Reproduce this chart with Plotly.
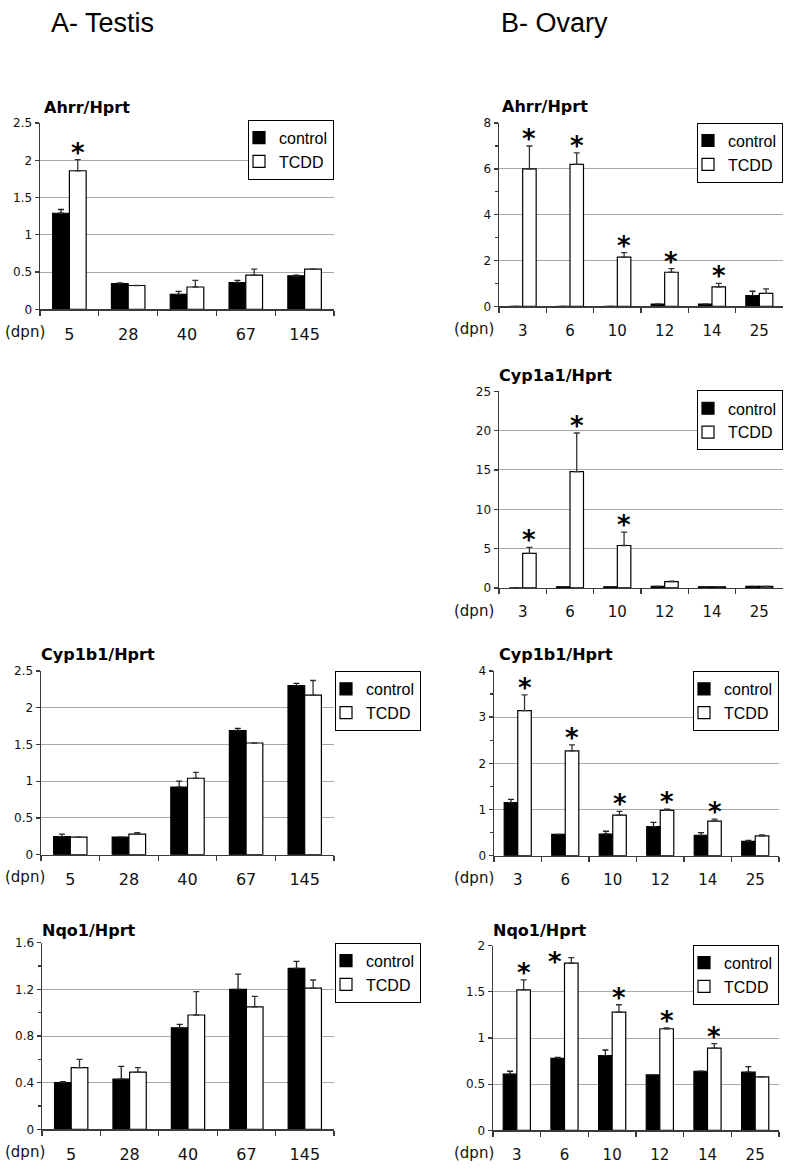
import plotly.graph_objects as go

# ---------------- data ----------------
testis_days = ["5", "28", "40", "67", "145"]
ovary_days = ["3", "6", "10", "12", "14", "25"]
legend_names = ["control", "TCDD"]

# A - Testis, Ahrr/Hprt
testis_ahrr_control = [1.29, 0.345, 0.20, 0.36, 0.45]
testis_ahrr_control_err = [0.05, 0.01, 0.04, 0.03, 0.01]
testis_ahrr_tcdd = [1.86, 0.32, 0.30, 0.46, 0.54]
testis_ahrr_tcdd_err = [0.15, 0.0, 0.09, 0.08, 0.0]
testis_ahrr_stars = ["T", "", "", "", ""]

# A - Testis, Cyp1b1/Hprt
testis_cyp1b1_control = [0.245, 0.24, 0.92, 1.69, 2.30]
testis_cyp1b1_control_err = [0.035, 0.0, 0.08, 0.03, 0.03]
testis_cyp1b1_tcdd = [0.24, 0.28, 1.04, 1.52, 2.17]
testis_cyp1b1_tcdd_err = [0.0, 0.02, 0.08, 0.0, 0.20]
testis_cyp1b1_stars = ["", "", "", "", ""]

# A - Testis, Nqo1/Hprt
testis_nqo1_control = [0.40, 0.43, 0.87, 1.20, 1.38]
testis_nqo1_control_err = [0.01, 0.11, 0.03, 0.13, 0.06]
testis_nqo1_tcdd = [0.53, 0.49, 0.98, 1.05, 1.21]
testis_nqo1_tcdd_err = [0.07, 0.04, 0.20, 0.09, 0.07]
testis_nqo1_stars = ["", "", "", "", ""]

# B - Ovary, Ahrr/Hprt
ovary_ahrr_control = [0.0, 0.0, 0.0, 0.10, 0.10, 0.47]
ovary_ahrr_control_err = [0.0, 0.0, 0.0, 0.0, 0.0, 0.19]
ovary_ahrr_tcdd = [6.0, 6.2, 2.15, 1.49, 0.85, 0.57]
ovary_ahrr_tcdd_err = [1.0, 0.5, 0.20, 0.16, 0.15, 0.19]
ovary_ahrr_stars = ["T", "T", "T", "T", "T", ""]

# B - Ovary, Cyp1a1/Hprt
ovary_cyp1a1_control = [0.0, 0.15, 0.15, 0.20, 0.15, 0.20]
ovary_cyp1a1_control_err = [0.0, 0.0, 0.0, 0.0, 0.0, 0.0]
ovary_cyp1a1_tcdd = [4.4, 14.8, 5.4, 0.80, 0.15, 0.20]
ovary_cyp1a1_tcdd_err = [0.75, 4.9, 1.7, 0.05, 0.0, 0.0]
ovary_cyp1a1_stars = ["T", "T", "T", "", "", ""]

# B - Ovary, Cyp1b1/Hprt
ovary_cyp1b1_control = [1.15, 0.46, 0.47, 0.63, 0.44, 0.31]
ovary_cyp1b1_control_err = [0.07, 0.0, 0.06, 0.09, 0.06, 0.02]
ovary_cyp1b1_tcdd = [3.14, 2.27, 0.88, 0.98, 0.75, 0.43]
ovary_cyp1b1_tcdd_err = [0.34, 0.13, 0.08, 0.03, 0.04, 0.02]
ovary_cyp1b1_stars = ["T", "T", "T", "T", "T", ""]

# B - Ovary, Nqo1/Hprt
ovary_nqo1_control = [0.61, 0.78, 0.81, 0.60, 0.64, 0.63]
ovary_nqo1_control_err = [0.03, 0.01, 0.06, 0.0, 0.0, 0.06]
ovary_nqo1_tcdd = [1.52, 1.81, 1.28, 1.10, 0.89, 0.58]
ovary_nqo1_tcdd_err = [0.11, 0.06, 0.08, 0.01, 0.05, 0.0]
ovary_nqo1_stars = ["T", "L", "T", "T", "T", ""]

# ---------------- layout constants ----------------
W, H = 790, 1169
BARGAP = 0.43


def px_x(v):
    return v / W


def px_y(v):
    return 1 - v / H


# leg = (x px, y px, anchor side)
panels = [
    dict(days=testis_days, c=testis_ahrr_control, ce=testis_ahrr_control_err,
         t=testis_ahrr_tcdd, te=testis_ahrr_tcdd_err, stars=testis_ahrr_stars,
         title="Ahrr/Hprt", box=(40, 334, 117.5, 306), ymax=2.5, dtick=0.5, minor=None,
         leg=(334, 114, "right"), tfs=16, title_xy=(42, 102), dpn_x=3),
    dict(days=ovary_days, c=ovary_ahrr_control, ce=ovary_ahrr_control_err,
         t=ovary_ahrr_tcdd, te=ovary_ahrr_tcdd_err, stars=ovary_ahrr_stars,
         title="Ahrr/Hprt", box=(499, 783, 117.5, 303), ymax=8, dtick=2, minor=1,
         leg=(783, 117, "right"), tfs=15, title_xy=(500, 101), dpn_x=452),
    dict(days=ovary_days, c=ovary_cyp1a1_control, ce=ovary_cyp1a1_control_err,
         t=ovary_cyp1a1_tcdd, te=ovary_cyp1a1_tcdd_err, stars=ovary_cyp1a1_stars,
         title="Cyp1a1/Hprt", box=(499, 783, 389, 588), ymax=25, dtick=5, minor=None,
         leg=(783, 388, "right"), tfs=15, title_xy=(497, 373), dpn_x=452),
    dict(days=testis_days, c=testis_cyp1b1_control, ce=testis_cyp1b1_control_err,
         t=testis_cyp1b1_tcdd, te=testis_cyp1b1_tcdd_err, stars=testis_cyp1b1_stars,
         title="Cyp1b1/Hprt", box=(41, 334, 672, 858), ymax=2.5, dtick=0.5, minor=None,
         leg=(335, 672, "left"), tfs=16, title_xy=(39, 655), dpn_x=3),
    dict(days=testis_days, c=testis_nqo1_control, ce=testis_nqo1_control_err,
         t=testis_nqo1_tcdd, te=testis_nqo1_tcdd_err, stars=testis_nqo1_stars,
         title="Nqo1/Hprt", box=(42, 334, 947, 1136), ymax=1.6, dtick=0.4, minor=0.2,
         leg=(335, 947, "left"), tfs=16, title_xy=(40, 935), dpn_x=3),
    dict(days=ovary_days, c=ovary_cyp1b1_control, ce=ovary_cyp1b1_control_err,
         t=ovary_cyp1b1_tcdd, te=ovary_cyp1b1_tcdd_err, stars=ovary_cyp1b1_stars,
         title="Cyp1b1/Hprt", box=(494, 779, 672, 859), ymax=4, dtick=1, minor=0.5,
         leg=(779, 672, "right"), tfs=15, title_xy=(497, 655), dpn_x=452),
    dict(days=ovary_days, c=ovary_nqo1_control, ce=ovary_nqo1_control_err,
         t=ovary_nqo1_tcdd, te=ovary_nqo1_tcdd_err, stars=ovary_nqo1_stars,
         title="Nqo1/Hprt", box=(493, 779, 950, 1137), ymax=2, dtick=0.5, minor=None,
         leg=(779, 949, "right"), tfs=15, title_xy=(491, 935), dpn_x=452),
]

fig = go.Figure()
annotations = []
AXC = "#3a3a3a"
STAR_FONT = dict(family="DejaVu Sans", size=26, color="black")

for i, p in enumerate(panels):
    n = i + 1
    xs = "" if n == 1 else str(n)
    xref, yref = "x" + xs, "y" + xs
    legname = "legend" + xs
    x0, x1, ytop, ybot = p["box"]
    k = len(p["days"])

    fig.add_trace(go.Bar(
        x=p["days"], y=p["c"], name=legend_names[0], legend=legname,
        xaxis=xref, yaxis=yref,
        marker=dict(color="black", line=dict(color="black", width=1.2)),
        error_y=dict(type="data", symmetric=False, array=p["ce"], arrayminus=[0] * k,
                     color="#222", thickness=1.3, width=3),
    ))
    fig.add_trace(go.Bar(
        x=p["days"], y=p["t"], name=legend_names[1], legend=legname,
        xaxis=xref, yaxis=yref,
        marker=dict(color="white", line=dict(color="black", width=1.2)),
        error_y=dict(type="data", symmetric=False, array=p["te"], arrayminus=[0] * k,
                     color="#333", thickness=1.3, width=3),
    ))

    cw = (x1 - x0) / k
    off = cw * (1 - BARGAP) / 4
    for idx, (s, tv, te) in enumerate(zip(p["stars"], p["t"], p["te"])):
        if not s:
            continue
        if s == "T":
            annotations.append(dict(x=idx, y=tv + te, xref=xref, yref=yref, text="<b>*</b>",
                                    showarrow=False, xshift=off, yanchor="bottom", yshift=-10,
                                    font=STAR_FONT))
        else:
            annotations.append(dict(x=idx, y=tv, xref=xref, yref=yref, text="<b>*</b>",
                                    showarrow=False, xshift=-off - 3, yanchor="bottom", yshift=-16,
                                    font=STAR_FONT))

    lx, ly, lside = p["leg"]
    fig.update_layout(**{
        "xaxis" + xs: dict(
            domain=[px_x(x0), px_x(x1)], anchor=yref, type="category",
            categoryorder="array", categoryarray=p["days"], range=[-0.5, k - 0.5],
            showline=True, linecolor=AXC, linewidth=1.5,
            ticks="outside", tickson="boundaries", ticklen=5, tickcolor=AXC, tickwidth=1.3,
            ticklabelstandoff=10, tickangle=0,
            tickfont=dict(family="DejaVu Sans", size=p["tfs"], color="#111"),
            showgrid=False, fixedrange=True,
        ),
        "yaxis" + xs: dict(
            domain=[px_y(ybot), px_y(ytop)], anchor=xref, range=[0, p["ymax"]],
            dtick=p["dtick"], tick0=0,
            showline=True, linecolor=AXC, linewidth=1.5,
            ticks="outside", ticklen=4, tickcolor=AXC, tickwidth=1.3,
            tickfont=dict(family="DejaVu Sans", size=12, color="#111"),
            showgrid=True, gridcolor="#a8a8a8", gridwidth=1, zeroline=False,
            minor=(dict(dtick=p["minor"], ticks="outside", ticklen=3, tickcolor=AXC, showgrid=False)
                   if p["minor"] else None),
            fixedrange=True,
        ),
        legname: dict(
            x=px_x(lx), y=px_y(ly), xanchor=lside, yanchor="top",
            xref="paper", yref="paper",
            bordercolor="black", borderwidth=1, bgcolor="white",
            font=dict(family="Liberation Sans", size=16, color="black"),
            itemwidth=30, tracegroupgap=0, traceorder="normal", indentation=-10,
        ),
    })

    # panel title
    tx, ty = p["title_xy"]
    annotations.append(dict(x=px_x(tx), y=px_y(ty), xref="paper", yref="paper",
                            text="<b>" + p["title"] + "</b>", showarrow=False,
                            xanchor="left", yanchor="middle",
                            font=dict(family="DejaVu Sans", size=16, color="black")))
    # (dpn) label
    annotations.append(dict(x=px_x(p["dpn_x"]), y=px_y(ybot + 23), xref="paper", yref="paper",
                            text="(dpn)", showarrow=False, xanchor="left", yanchor="middle",
                            font=dict(family="DejaVu Sans", size=15, color="#111")))

# column headings
annotations.append(dict(x=px_x(49), y=px_y(16), xref="paper", yref="paper", text="A- Testis",
                        showarrow=False, xanchor="left", yanchor="middle",
                        font=dict(family="Liberation Sans", size=27, color="black")))
annotations.append(dict(x=px_x(499), y=px_y(16), xref="paper", yref="paper", text="B- Ovary",
                        showarrow=False, xanchor="left", yanchor="middle",
                        font=dict(family="Liberation Sans", size=27, color="black")))

fig.update_layout(
    width=W, height=H, margin=dict(l=0, r=0, t=0, b=0),
    paper_bgcolor="white", plot_bgcolor="white",
    barmode="group", bargap=BARGAP, bargroupgap=0,
    annotations=annotations,
    font=dict(family="DejaVu Sans"),
)

fig.write_html(
    "out.html",
    config={"displayModeBar": False, "staticPlot": True},
    post_script=(
        "document.body.style.margin='0px';document.body.style.padding='0px';"
        "var gd=document.querySelector('.plotly-graph-div');"
        "gd.style.position='absolute';gd.style.top='0px';gd.style.left='0px';"
    ),
)
